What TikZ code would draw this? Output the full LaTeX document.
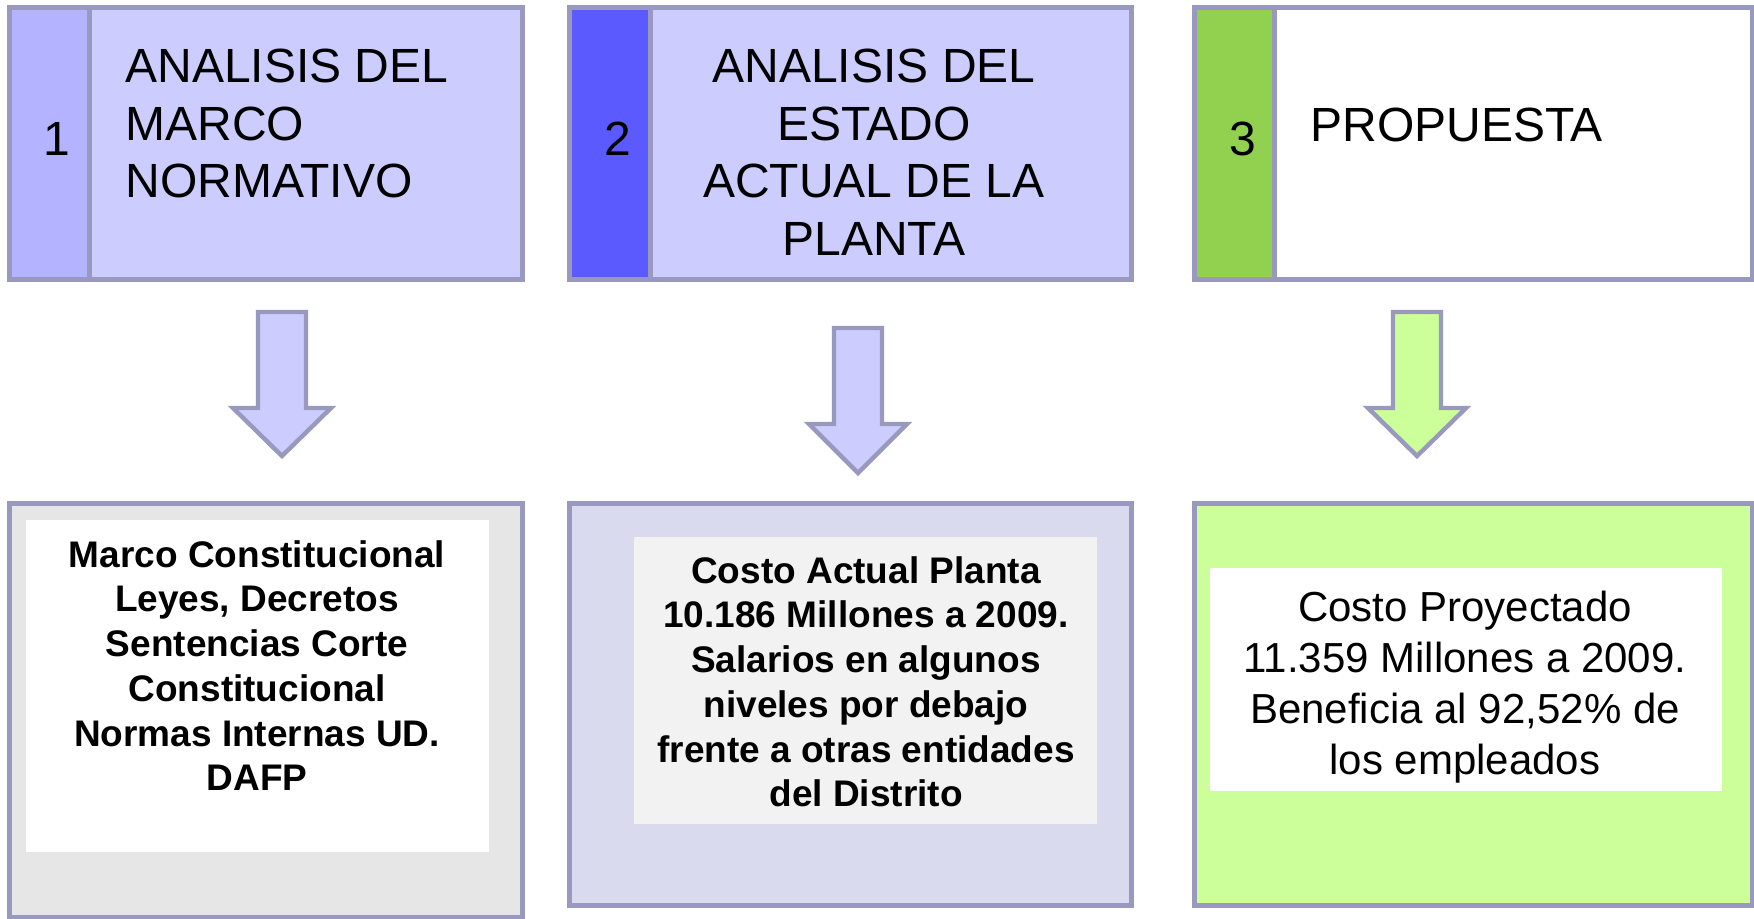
\documentclass[tikz,border=0pt]{standalone}
\usepackage{fontspec}
\setmainfont{Liberation Sans}
\definecolor{bordc}{HTML}{9999BF}
\definecolor{numA}{HTML}{B3B3FF}
\definecolor{lav}{HTML}{CCCCFF}
\definecolor{numB}{HTML}{5A5AFF}
\definecolor{numC}{HTML}{92D050}
\definecolor{lime}{HTML}{CCFF99}
\definecolor{grayA}{HTML}{E6E6E6}
\definecolor{lavgray}{HTML}{DADAEE}
\definecolor{offw}{HTML}{F2F2F2}
\begin{document}
\begin{tikzpicture}[x=0.5pt,y=-0.5pt,
  frame/.style={draw=bordc, line width=2.5pt, line join=miter},
  arrowst/.style={draw=bordc, line width=2.2pt, line join=miter},
  head/.style={inner sep=0pt, font=\fontsize{24}{28.7}\selectfont},
  numtxt/.style={inner sep=0pt, anchor=base, font=\fontsize{24}{28.7}\selectfont},
  boldtxt/.style={inner sep=0pt, anchor=north, align=center, font=\fontsize{18.5}{22.35}\selectfont\bfseries},
  regtxt/.style={inner sep=0pt, anchor=north, align=center, font=\fontsize{21}{25.4}\selectfont}
]
\useasboundingbox (0,0) rectangle (1754,919);
\fill[white] (0,0) rectangle (1754,919);

% top boxes
\draw[frame, fill=numA] (9,8) rectangle (89,280);
\draw[frame, fill=lav] (89,8) rectangle (522,280);
\draw[frame, fill=numB] (569,8) rectangle (650,280);
\draw[frame, fill=lav] (650,8) rectangle (1131,280);
\draw[frame, fill=numC] (1194,8) rectangle (1274,280);
\draw[frame, fill=white] (1274,8) rectangle (1752,280);

\node[numtxt] (n1) at (57,156) {1};
\node[numtxt] (n2) at (618,156) {2};
\node[numtxt] (n3) at (1243,156) {3};

\node[head, anchor=north west, align=left] (h1) at (125,49) {ANALISIS DEL\\MARCO\\NORMATIVO};
\node[head, anchor=north, align=center] (h2) at (874,49) {ANALISIS DEL\\ESTADO\\ACTUAL DE LA\\PLANTA};
\node[head, anchor=base west] (h3) at (1310,142) {PROPUESTA};

% block arrows
\draw[arrowst, fill=lav, shift={(282,312)}] (-24,0) -- (24,0) -- (24,96) -- (49,96) -- (0,144) -- (-49,96) -- (-24,96) -- cycle;
\draw[arrowst, fill=lav, shift={(858,328)}] (-24,0) -- (24,0) -- (24,96) -- (49,96) -- (0,145) -- (-49,96) -- (-24,96) -- cycle;
\draw[arrowst, fill=lime, shift={(1417,312)}] (-24,0) -- (24,0) -- (24,96) -- (49,96) -- (0,144) -- (-49,96) -- (-24,96) -- cycle;

% bottom boxes
\draw[frame, fill=grayA] (9,503) rectangle (522,917);
\fill[white] (26,520) rectangle (489,852);
\draw[frame, fill=lavgray] (569,503) rectangle (1131,905);
\fill[offw] (634,537) rectangle (1097,824);
\draw[frame, fill=lime] (1194,503) rectangle (1752,905);
\fill[white] (1210,568) rectangle (1722,791);

\node[boldtxt] (t1) at (257,540) {Marco Constitucional\\Leyes, Decretos\\Sentencias Corte\\Constitucional\\Normas Internas UD.\\DAFP};
\node[boldtxt] (t2) at (866,556) {Costo Actual Planta\\10.186 Millones a 2009.\\Salarios en algunos\\niveles por debajo\\frente a otras entidades\\del Distrito};
\node[regtxt] (t3) at (1465,591) {Costo Proyectado\\11.359 Millones a 2009.\\Beneficia al 92,52\% de\\los empleados};
\end{tikzpicture}
\end{document}
